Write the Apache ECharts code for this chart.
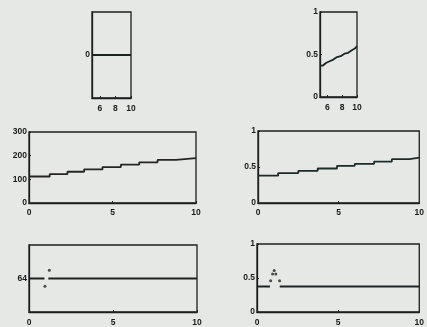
<!DOCTYPE html>
<html><head><meta charset="utf-8">
<script src="https://cdn.jsdelivr.net/npm/echarts@6/dist/echarts.min.js"></script>
<style>html,body{margin:0;padding:0;background:#e6e8e6;}#c{width:427px;height:327px;}</style>
</head><body><div id="c"></div>
<script>
// Panel 1 (top-left): flat line at 0, x 5..10
const p1X = [5, 6, 7, 8, 9, 10];
const p1Y = [0, 0, 0, 0, 0, 0];
const p1XTicks = [6, 8, 10];
const p1YTicks = [0];
// Panel 2 (top-right): rising wiggly line, x 5..10
const p2X = [5, 5.4, 5.8, 6.3, 6.8, 7.3, 7.8, 8.3, 8.8, 9.3, 9.7, 10];
const p2Y = [0.37, 0.37, 0.40, 0.42, 0.44, 0.47, 0.48, 0.51, 0.52, 0.55, 0.57, 0.60];
const p2XTicks = [6, 8, 10];
const p2YTicks = [0, 0.5, 1];
// Panel 3 (middle-left): staircase 0..300
const p3X = [0, 1.24, 2.3, 3.3, 4.4, 5.5, 6.6, 7.7, 8.8, 10];
const p3Y = [112, 122, 132, 142, 152, 162, 172, 182, 190, 190];
const p3XTicks = [0, 5, 10];
const p3YTicks = [0, 100, 200, 300];
// Panel 4 (middle-right): staircase 0..1
const p4X = [0, 1.25, 2.5, 3.7, 4.9, 6.0, 7.2, 8.3, 9.4, 10];
const p4Y = [0.38, 0.415, 0.447, 0.479, 0.516, 0.544, 0.576, 0.608, 0.631, 0.631];
const p4XTicks = [0, 5, 10];
const p4YTicks = [0, 0.5, 1];
// Panel 5 (bottom-left): flat line at 64 with two outlier points
const p5X = [0, 0.92, 1.0, 1.15, 10];
const p5Y = [64, 64, '-', 64, 64];
const p5DotsX = [1.21, 0.95];
const p5DotsY = [64.25, 63.77];
const p5XTicks = [0, 5, 10];
const p5YTicks = [64];
// Panel 6 (bottom-right): flat line with triangle of dots
const p6X = [0, 0.8, 1.0, 1.4, 10];
const p6Y = [0.375, 0.375, '-', 0.375, 0.375];
const p6DotsX = [1.06, 0.96, 1.16, 0.84, 1.39];
const p6DotsY = [0.61, 0.56, 0.56, 0.46, 0.46];
const p6XTicks = [0, 5, 10];
const p6YTicks = [0, 0.5, 1];

const zip = (a, b) => a.map((v, i) => [v, b[i]]);
const ink = '#1c1f1f';
const lab = {fontSize: 8.5, fontWeight: 'bold', color: '#1a1a1a', fontFamily: 'Liberation Sans, Arial, sans-serif'};

const grids = [
  {left: 92, top: 12, width: 39, height: 86},
  {left: 320, top: 12, width: 37, height: 85},
  {left: 29, top: 132, width: 167, height: 71},
  {left: 258, top: 131, width: 164, height: 72},
  {left: 29, top: 245, width: 168, height: 67},
  {left: 257, top: 244, width: 165, height: 69}
].map(g => Object.assign({show: true, borderColor: ink, borderWidth: 1.3, backgroundColor: 'transparent'}, g));

function xa(i, min, max, ticks, margin) {
  return {type: 'value', gridIndex: i, min: min, max: max,
    axisLine: {show: true, onZero: false, lineStyle: {color: ink, width: 1.3}},
    axisTick: {show: true, inside: true, length: 2, customValues: ticks, lineStyle: {color: ink}},
    axisLabel: Object.assign({show: true, margin: margin, customValues: ticks}, lab),
    splitLine: {show: false}};
}
function ya(i, min, max, ticks) {
  return {type: 'value', gridIndex: i, min: min, max: max,
    axisLine: {show: true, onZero: false, lineStyle: {color: ink, width: 1.3}},
    axisTick: {show: true, inside: true, length: 2, customValues: ticks, lineStyle: {color: ink}},
    axisLabel: Object.assign({show: true, margin: 2, customValues: ticks}, lab),
    splitLine: {show: false}};
}
const lineS = (i, data, color, step) => ({type: 'line', xAxisIndex: i, yAxisIndex: i, data: data,
  step: step || false, showSymbol: false, symbol: 'none', connectNulls: false,
  lineStyle: {color: color, width: 1.8}, animation: false});
const dotS = (i, data) => ({type: 'scatter', xAxisIndex: i, yAxisIndex: i, data: data,
  symbolSize: 3, itemStyle: {color: '#222'}, animation: false});

const chart = echarts.init(document.getElementById('c'), null, {renderer: 'canvas'});
chart.setOption({
  backgroundColor: '#e6e8e6',
  animation: false,
  grid: grids,
  xAxis: [
    xa(0, 5, 10, p1XTicks, 6), xa(1, 5, 10, p2XTicks, 6),
    xa(2, 0, 10, p3XTicks, 5), xa(3, 0, 10, p4XTicks, 5),
    xa(4, 0, 10, p5XTicks, 6), xa(5, 0, 10, p6XTicks, 6)
  ],
  yAxis: [
    ya(0, -1, 1, p1YTicks), ya(1, 0, 1, p2YTicks),
    ya(2, 0, 300, p3YTicks), ya(3, 0, 1, p4YTicks),
    ya(4, 63, 65, p5YTicks), ya(5, 0, 1, p6YTicks)
  ],
  series: [
    lineS(0, zip(p1X, p1Y), '#1a2222'),
    lineS(1, zip(p2X, p2Y), '#1a2626'),
    lineS(2, zip(p3X, p3Y), '#262420', 'end'),
    lineS(3, zip(p4X, p4Y), '#1a2c2a', 'end'),
    lineS(4, zip(p5X, p5Y), '#1a2222'),
    dotS(4, zip(p5DotsX, p5DotsY)),
    lineS(5, zip(p6X, p6Y), '#1a2626'),
    dotS(5, zip(p6DotsX, p6DotsY))
  ]
});
</script></body></html>
